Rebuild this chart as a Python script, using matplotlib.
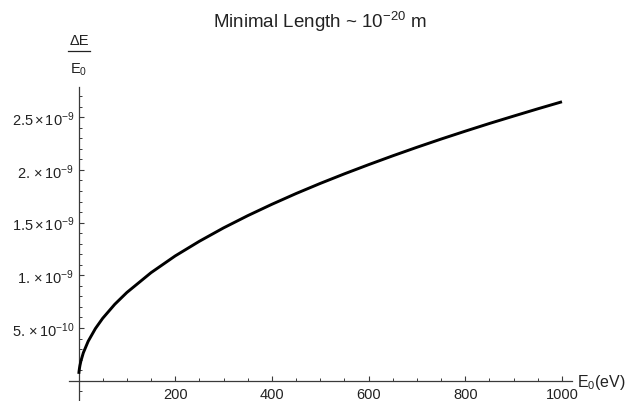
import matplotlib
matplotlib.use("Agg")
import matplotlib.pyplot as plt
from matplotlib.lines import Line2D
from matplotlib.ticker import FixedLocator

plt.rcParams['font.family'] = ['Liberation Sans', 'DejaVu Sans']
plt.rcParams['mathtext.fontset'] = 'custom'
plt.rcParams['mathtext.rm'] = 'Liberation Sans'
plt.rcParams['mathtext.it'] = 'Liberation Sans:italic'
plt.rcParams['mathtext.bf'] = 'Liberation Sans:bold'

# ---- data ----
energy_ev = [0.6, 1, 2, 3, 5, 10, 20, 35, 50, 75, 100, 150, 200, 250, 300, 350,
             400, 450, 500, 550, 600, 650, 700, 750, 800, 850, 900, 950, 1000]
ratio_e10 = [0.65, 0.84, 1.18, 1.45, 1.87, 2.65, 3.74, 4.95, 5.92, 7.25, 8.37,
             10.25, 11.84, 13.23, 14.50, 15.66, 16.74, 17.76, 18.72, 19.63,
             20.50, 21.34, 22.15, 22.93, 23.68, 24.41, 25.11, 25.80, 26.47]
ratio = [v * 1e-10 for v in ratio_e10]

x_major = [200, 400, 600, 800, 1000]
x_minor = [50, 100, 150, 250, 300, 350, 450, 500, 550, 650, 700, 750,
           850, 900, 950]
y_major = [5e-10, 1e-9, 1.5e-9, 2e-9, 2.5e-9]
y_major_labels = [r'$\mathregular{5.\,{\times}\,10^{-10}}$',
                  r'$\mathregular{1.\,{\times}\,10^{-9}}$',
                  r'$\mathregular{1.5\,{\times}\,10^{-9}}$',
                  r'$\mathregular{2.\,{\times}\,10^{-9}}$',
                  r'$\mathregular{2.5\,{\times}\,10^{-9}}$']
y_minor = [k * 1e-10 for k in [-1, 1, 2, 3, 4, 6, 7, 8, 9, 11, 12, 13, 14, 16, 17,
                                18, 19, 21, 22, 23, 24, 26, 27]]

title = r'Minimal Length ~ 10$^{\mathregular{-20}}$ m'

W, H = 629, 402
fig = plt.figure(figsize=(W / 100, H / 100), dpi=100)

ax_left, ax_right, ax_top, ax_bottom = 69, 571.7, 88, 402
ax = fig.add_axes([ax_left / W, 1 - ax_bottom / H, (ax_right - ax_left) / W,
                   (ax_bottom - ax_top) / H])
ax.set_xlim(-19.65, 1020.1)
ax.set_ylim(-1.926e-10, 27.87e-10)

axis_color = '#3a3a3a'
text_color = '#222222'
for s in ['top', 'right']:
    ax.spines[s].set_visible(False)
ax.spines['left'].set_position(('data', 0))
ax.spines['bottom'].set_position(('data', 0))
for s in ['left', 'bottom']:
    ax.spines[s].set_color(axis_color)
    ax.spines[s].set_linewidth(0.9)

ax.xaxis.set_major_locator(FixedLocator(x_major))
ax.xaxis.set_minor_locator(FixedLocator(x_minor))
ax.yaxis.set_major_locator(FixedLocator(y_major))
ax.yaxis.set_minor_locator(FixedLocator(y_minor))
ax.set_xticklabels([str(v) for v in x_major])
ax.set_yticklabels(y_major_labels)

ax.tick_params(axis='both', which='major', direction='in', length=3.4, width=0.8,
               color=axis_color, labelcolor=text_color, labelsize=10.5)
ax.tick_params(axis='both', which='minor', direction='in', length=2.0, width=0.7,
               color=axis_color)
ax.tick_params(axis='x', which='major', pad=4.5)
ax.tick_params(axis='y', which='major', pad=3)

ax.plot(energy_ev, ratio, color='black', lw=2.1, solid_capstyle='butt', zorder=3)

# title
fig.text(320 / W, 1 - 22 / H, title, ha='center', va='center', fontsize=13.5,
         color=text_color)

# y label (fraction)
fig.text(79 / W, 1 - 41 / H, '\u0394E', ha='center', va='center', fontsize=10.5,
         color=text_color)
fig.add_artist(Line2D([68 / W, 90 / W], [1 - 52.3 / H, 1 - 52.3 / H],
                      color=text_color, lw=0.9))
fig.text(79 / W, 1 - 70 / H, r'$\mathregular{E_0}$', ha='center', va='center',
         fontsize=10.5, color=text_color)

# x label
fig.text(577 / W, 1 - 383 / H, r'$\mathregular{E_0(eV)}$', ha='left', va='center',
         fontsize=11.5, color=text_color)

fig.savefig('out.png', dpi=100)
